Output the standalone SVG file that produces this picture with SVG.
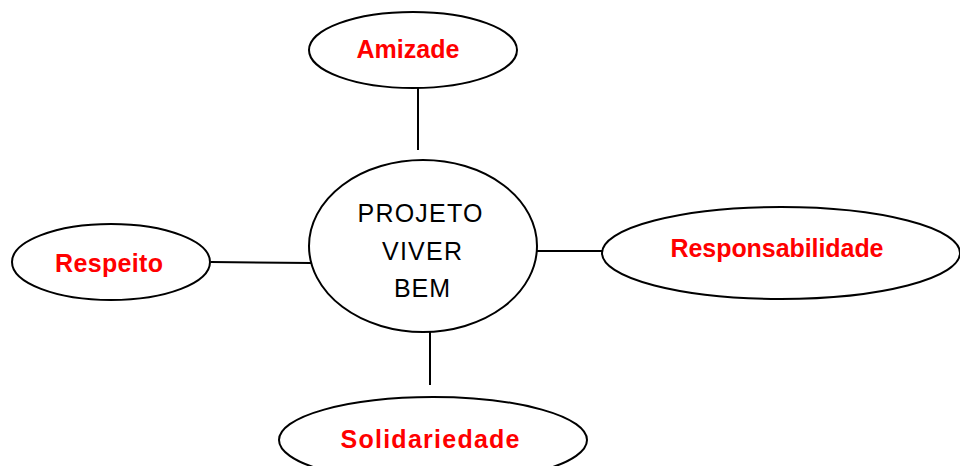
<svg xmlns="http://www.w3.org/2000/svg" width="960" height="466" viewBox="0 0 960 466">
<style>
.n{fill:#fff;stroke:#000;stroke-width:2}
.c line{stroke:#000;stroke-width:2}
.lbl{font-family:"Comic Sans MS","Liberation Sans",sans-serif;font-weight:bold;font-size:25px;fill:#ff0000;text-anchor:middle}
.ctr{font-family:"Comic Sans MS","Liberation Sans",sans-serif;font-size:25px;fill:#000;text-anchor:middle}
</style>
<rect width="960" height="466" fill="#fff"/>
<g class="c" id="connectors">
<line x1="418" y1="88" x2="418" y2="150"/>
<line x1="211" y1="262" x2="311" y2="263"/>
<line x1="537" y1="251" x2="602" y2="251"/>
<line x1="430" y1="332" x2="430" y2="385"/>
</g>
<g id="center">
<ellipse class="n" cx="423" cy="246" rx="114" ry="86"/>
<text class="ctr" x="420" y="222" textLength="125">PROJETO</text>
<text class="ctr" x="422" y="260" textLength="80">VIVER</text>
<text class="ctr" x="422" y="297" textLength="56">BEM</text>
</g>
<g id="amizade">
<ellipse class="n" cx="413" cy="50" rx="104" ry="38"/>
<text class="lbl" x="408" y="58" textLength="103">Amizade</text>
</g>
<g id="respeito">
<ellipse class="n" cx="111" cy="262" rx="99" ry="38"/>
<text class="lbl" x="109" y="272" textLength="108">Respeito</text>
</g>
<g id="responsabilidade">
<ellipse class="n" cx="781" cy="253" rx="179" ry="46"/>
<text class="lbl" x="777" y="257" textLength="213">Responsabilidade</text>
</g>
<g id="solidariedade">
<ellipse class="n" cx="433" cy="440" rx="154" ry="43"/>
<text class="lbl" x="430" y="448" textLength="179">Solidariedade</text>
</g>
</svg>
